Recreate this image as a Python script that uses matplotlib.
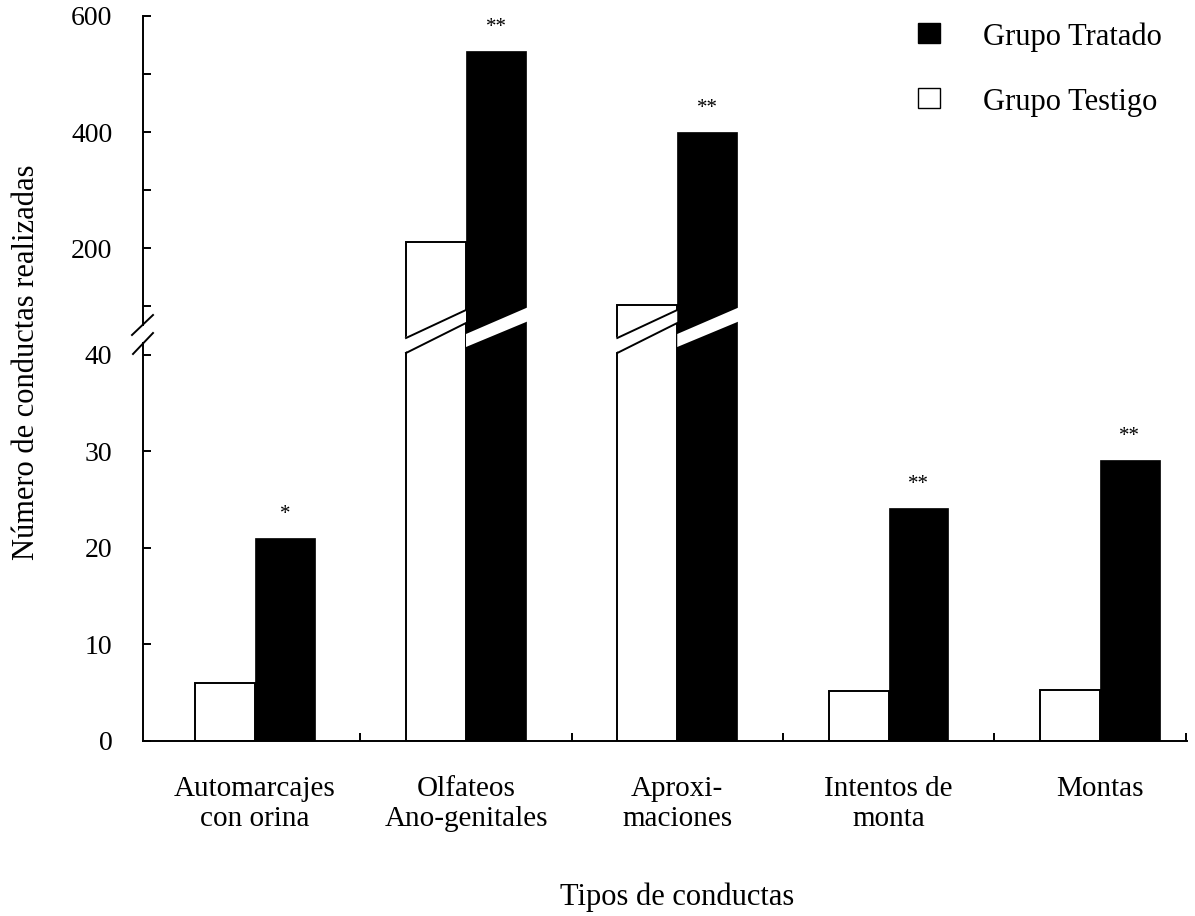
import numpy as np
import matplotlib
matplotlib.use('Agg')
import matplotlib.pyplot as plt
from matplotlib.patches import Polygon, Rectangle
from matplotlib.lines import Line2D
from matplotlib.transforms import blended_transform_factory

plt.rcParams['font.family'] = 'Liberation Serif'

# Data
categories = ['Automarcajes\ncon orina', 'Olfateos\nAno-genitales', 'Aproxi-\nmaciones',
              'Intentos de\nmonta', 'Montas']
tratado = [21, 540, 400, 24.1, 29.1]
testigo = [6, 211, 103, 5.2, 5.3]
signif = ['*', '**', '**', '**', '**']
low_ticks = [0, 10, 20, 30, 40]
high_ticks = [200, 400, 600]
high_minor = [100, 300, 500]

W, H = 1195, 916
fig = plt.figure(figsize=(W / 100, H / 100), dpi=100)


def fy(p):
    # pixel row (from top) -> figure fraction
    return 1 - p / H


left, right = 143 / W, 1187 / W
ax_lo = fig.add_axes([left, fy(741), right - left, fy(341) - fy(741)])
ax_hi = fig.add_axes([left, fy(341), right - left, fy(15.7) - fy(341)])

x = np.arange(len(categories))
w = 0.284
xlim = (-0.529, 4.413)

for ax in (ax_lo, ax_hi):
    ax.bar(x - w / 2, testigo, w, color='white', edgecolor='black', linewidth=1.4)
    ax.bar(x + w / 2, tratado, w, color='black', edgecolor='black', linewidth=0.5)
    ax.set_xlim(*xlim)
    ax.spines[['top', 'right']].set_visible(False)
    for s in ax.spines.values():
        s.set_linewidth(1.4)
    ax.tick_params(axis='y', which='both', direction='in', length=6, width=1.4,
                   labelsize=20, pad=22)

# lower part of the broken axis
ax_lo.set_ylim(0, 41.45)
ax_lo.set_yticks(low_ticks)
ax_lo.spines['left'].set_bounds(0, 41.2)
ax_lo.set_xticks(x, categories)
ax_lo.set_xticks([0.5, 1.5, 2.5, 3.5, 4.41], minor=True)
ax_lo.tick_params(axis='x', which='major', length=0, pad=25, labelsize=21)
ax_lo.tick_params(axis='x', which='minor', direction='in', length=6, width=1.4)

# upper part
ax_hi.set_ylim(40.6, 600)
ax_hi.set_yticks(high_ticks)
ax_hi.set_yticks(high_minor, minor=True)
ax_hi.set_yticklabels([str(t) for t in high_ticks])
ax_hi.spines['bottom'].set_visible(False)
ax_hi.spines['left'].set_bounds(68, 600)
ax_hi.tick_params(axis='x', which='both', bottom=False, labelbottom=False)

# significance marks
for i in range(len(categories)):
    ax = ax_hi if tratado[i] > 41 else ax_lo
    ax.annotate(signif[i], (x[i] + w / 2, tratado[i]), xytext=(0, 19),
                textcoords='offset pixels', ha='center', va='baseline', fontsize=15)

# diagonal breaks across the tall bars
tr = blended_transform_factory(ax_lo.transData, fig.transFigure)
e = 0.012
for i in range(len(categories)):
    if tratado[i] <= 41:
        continue
    l, m, r = x[i] - w, x[i], x[i] + w
    if testigo[i] > 41:
        fig.add_artist(Polygon([(l - e, fy(338)), (m, fy(310)), (m, fy(323)), (l - e, fy(353))],
                               closed=True, facecolor='white', edgecolor='none',
                               transform=tr, zorder=5))
        for a, b in ((338, 310), (353, 323)):
            fig.add_artist(Line2D([l, m], [fy(a), fy(b)], color='black', lw=1.4,
                                  transform=tr, zorder=6))
    fig.add_artist(Polygon([(m, fy(334)), (r + e, fy(307)), (r + e, fy(321)), (m, fy(347))],
                           closed=True, facecolor='white', edgecolor='none',
                           transform=tr, zorder=5))

# break marks on the y axis
for (x0, y0), (x1, y1) in (((132, 335), (153, 315)), ((133, 354), (153, 333))):
    fig.add_artist(Line2D([x0 / W, x1 / W], [fy(y0), fy(y1)], color='black', lw=1.4,
                          transform=fig.transFigure))

# axis titles
fig.text(27 / W, fy(362), 'Número de conductas realizadas', rotation=90,
         ha='center', va='center', fontsize=22)
fig.text(677.5 / W, fy(905), 'Tipos de conductas', ha='center', va='baseline', fontsize=22)

# legend
for top, fc, label, base in ((23, 'black', 'Grupo Tratado', 45),
                             (88, 'white', 'Grupo Testigo', 110)):
    fig.add_artist(Rectangle((918 / W, fy(top + 20)), 22 / W, 20 / H, facecolor=fc,
                             edgecolor='black', lw=1.0, transform=fig.transFigure))
    fig.text(983 / W, fy(base), label, fontsize=22, va='baseline')

fig.savefig('out.png', dpi=100)
